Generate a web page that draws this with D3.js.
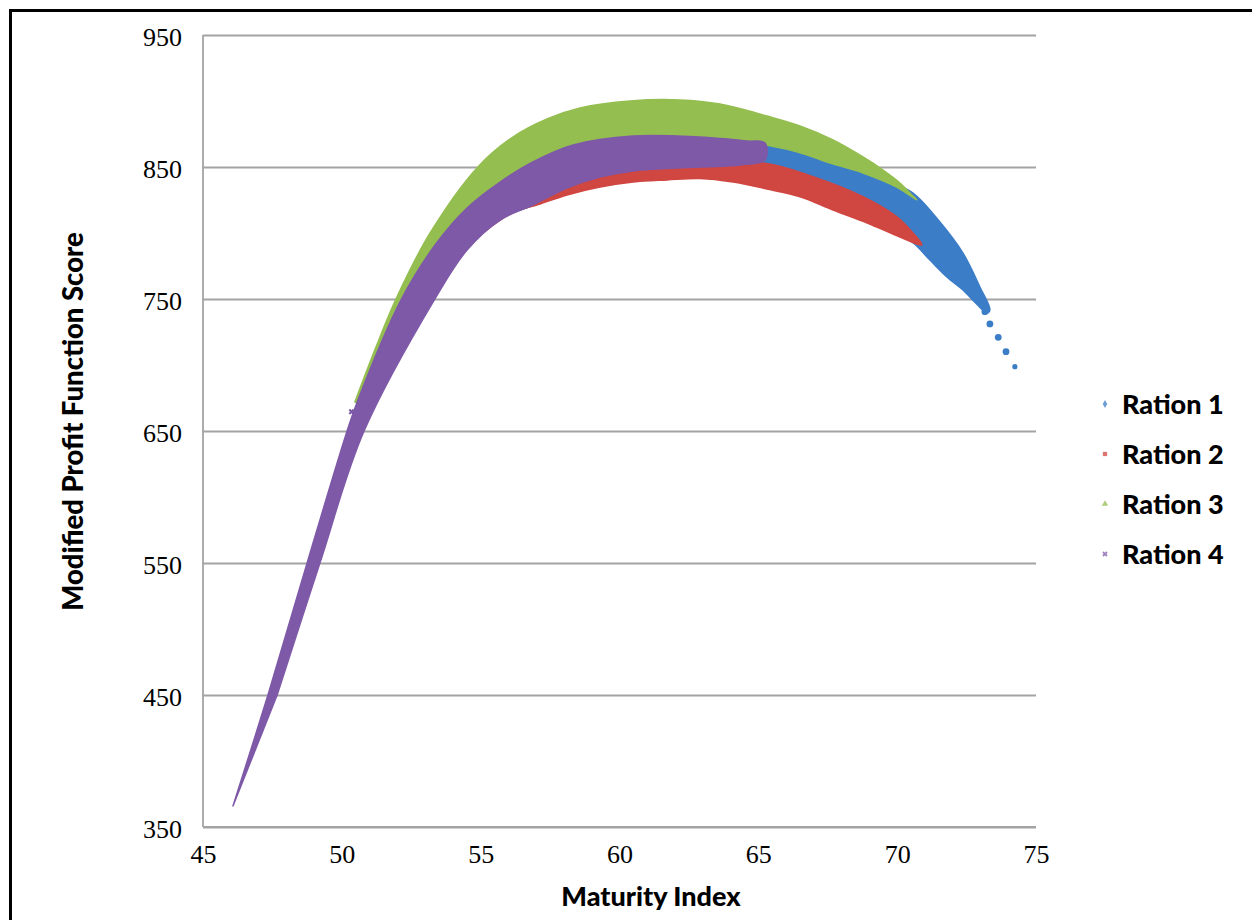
<!DOCTYPE html>
<html>
<head>
<meta charset="utf-8">
<script src="https://cdn.jsdelivr.net/npm/d3@7"></script>
<style>
  body { margin: 0; background: #fff; }
  .tick-label { font-family: "Liberation Serif", "DejaVu Serif", serif; font-size: 26px; fill: #000; }
  .title { font-family: "Lato", "Noto Sans", sans-serif; font-weight: 900; fill: #000; }
</style>
</head>
<body>
<div id="chart"></div>
<script>
// ---- data (x = maturity index, y = profit score) ----
var seriesNames = ["Ration 1", "Ration 2", "Ration 3", "Ration 4"];
var xTicks = [45, 50, 55, 60, 65, 70, 75];
var yTicks = [350, 450, 550, 650, 750, 850, 950];

// each ration is a dense cloud of points, kept here as its upper and lower edge
var ration1Upper = [[54.98, 828.8], [57.50, 856.8], [61.10, 870.5], [64.58, 869.7], [66.50, 862.9],
  [68.30, 850.8], [69.74, 838.6], [70.57, 830.3], [71.54, 808.3], [72.37, 784.8], [72.98, 759.1], [73.34, 741.7]];
var ration1Lower = [[54.98, 806.1], [59.30, 836.4], [62.90, 843.9], [66.50, 830.3], [69.38, 805.3],
  [70.53, 793.2], [71.18, 779.5], [71.78, 766.9], [72.37, 756.8], [72.86, 746.2], [73.23, 739.4]];
var ration1Tail = [[73.16, 740.4], [73.34, 731.1], [73.64, 721.0], [73.92, 710.1], [74.24, 698.7]];

var ration2Upper = [[54.98, 811.4], [57.50, 834.1], [61.10, 853.8], [65.17, 853.0], [66.97, 842.7],
  [68.77, 827.5], [69.98, 812.4], [70.57, 800.0], [70.89, 790.9]];
var ration2Lower = [[54.98, 798.5], [56.06, 814.4], [57.14, 822.0], [58.11, 828.8], [59.30, 834.8],
  [60.49, 838.6], [61.71, 840.2], [62.90, 841.3], [64.09, 838.6], [65.31, 833.3], [66.50, 827.5],
  [67.69, 817.4], [68.92, 807.6], [70.10, 797.0]];

var ration3Upper = [[50.47, 672.0], [51.23, 713.6], [51.95, 750.0], [53.18, 800.0], [54.90, 850.0],
  [56.16, 872.7], [57.39, 886.4], [58.58, 894.7], [60.38, 900.0], [62.18, 900.8], [63.62, 897.7],
  [65.31, 888.6], [66.50, 881.1], [67.69, 870.5], [68.77, 857.6], [69.49, 847.7], [70.10, 837.9],
  [70.57, 828.0], [70.71, 825.0]];
var ration3Lower = [[50.65, 669.7], [52.09, 735.6], [53.90, 781.1], [56.42, 823.5], [59.30, 847.7],
  [62.18, 865.9], [64.58, 868.2], [66.38, 861.6], [67.58, 853.0], [68.77, 845.5], [69.98, 834.8]];

var ration4Upper = [[46.08, 365.9], [47.34, 450.0], [48.75, 550.0], [50.19, 650.0], [50.58, 673.5],
  [52.13, 749.2], [53.36, 790.9], [54.51, 818.9], [55.70, 838.6], [56.88, 853.8], [58.33, 866.7],
  [60.49, 873.5], [62.90, 872.7], [64.58, 869.7], [65.24, 868.2]];
var ration4Lower = [[47.67, 450.0], [49.21, 550.0], [50.80, 650.0], [53.39, 751.5], [54.51, 787.1],
  [55.70, 809.8], [56.88, 821.2], [58.11, 834.1], [59.30, 842.4], [60.49, 847.0], [62.90, 850.0],
  [64.34, 851.5], [65.24, 855.3]];
var ration4Extra = [[50.35, 664.6]];

(function() {
  var W = 1252, H = 920;
  var margin = { top: 35, left: 203, right: 216, bottom: 93 },
  width = W - margin.left - margin.right,
  height = H - margin.top - margin.bottom;

  var colors = ["#3c7dc8", "#d04640", "#94be50", "#7e59a8"];
  var shapes = [d3.symbolDiamond, d3.symbolSquare, d3.symbolTriangle, d3.symbolCross];

  var root = d3.select("#chart")
    .append("svg")
    .attr("width", W)
    .attr("height", H)

  // black frame, only top and left show in the picture
  root.append("rect")
    .attr("x", 10.5)
    .attr("y", 10.5)
    .attr("width", W + 40)
    .attr("height", H + 40)
    .attr("fill", "none")
    .attr("stroke", "#000")
    .attr("stroke-width", 3)

  var svg = root.append("g")
    .attr("transform", "translate(" + margin.left + "," + margin.top + ")")

  var x = d3.scaleLinear().domain([45, 75]).range([0, width])
  var y = d3.scaleLinear().domain([350, 950]).range([height, 0])

  // gridlines
  svg.append("g")
    .attr("class", "grid")
    .call(d3.axisLeft(y).tickValues(yTicks).tickSize(-width).tickFormat(""))
    .call(function(g) {
      g.select(".domain").remove()
      g.selectAll("line").attr("stroke", "#a3a3a3").attr("stroke-width", 1.8)
    })

  // axis lines
  svg.append("line")
    .attr("x1", 0).attr("x2", 0)
    .attr("y1", 0).attr("y2", height)
    .attr("stroke", "#a3a3a3").attr("stroke-width", 1.8)
  svg.append("line")
    .attr("x1", 0).attr("x2", width)
    .attr("y1", height).attr("y2", height)
    .attr("stroke", "#a3a3a3").attr("stroke-width", 1.8)

  var yAxis = svg.append("g")
    .call(d3.axisLeft(y).tickValues(yTicks).tickSize(0).tickPadding(21))
  yAxis.select(".domain").remove()
  yAxis.selectAll("text")
    .attr("class", "tick-label")
    .attr("dy", "0.4em")
    .attr("font-family", null).attr("font-size", null)

  var xAxis = svg.append("g")
    .attr("transform", "translate(0," + height + ")")
    .call(d3.axisBottom(x).tickValues(xTicks).tickSize(0).tickPadding(18))
  xAxis.select(".domain").remove()
  xAxis.selectAll("text")
    .attr("class", "tick-label")
    .attr("font-family", null).attr("font-size", null)

  // the four clouds, drawn in series order so ration 4 ends on top
  var edges = [
    [ration1Upper, ration1Lower],
    [ration2Upper, ration2Lower],
    [ration3Upper, ration3Lower],
    [ration4Upper, ration4Lower]
  ];

  var outline = d3.line()
    .x(function(d) { return x(d[0]) })
    .y(function(d) { return y(d[1]) })
    .curve(d3.curveCatmullRom.alpha(0.5))

  var sym = d3.symbol()

  edges.forEach(function(e, i) {
    var ring = e[0].concat(e[1].slice().reverse())
    svg.append("path")
      .attr("class", "cloud cloud-" + (i + 1))
      .attr("d", outline(ring) + "Z")
      .attr("fill", colors[i])
      .attr("stroke", colors[i])
      .attr("stroke-width", 1.5)
      .attr("stroke-linejoin", "round")

    if (i === 0) {
      svg.selectAll(".tail")
        .data(ration1Tail)
        .enter().append("circle")
        .attr("class", "tail")
        .attr("cx", function(d) { return x(d[0]) })
        .attr("cy", function(d) { return y(d[1]) })
        .attr("r", function(d, k) { return k === ration1Tail.length - 1 ? 2.6 : 3.4 })
        .attr("fill", colors[0])
    }
  })//END of edges.forEach

  svg.selectAll(".extra")
    .data(ration4Extra)
    .enter().append("path")
    .attr("class", "extra")
    .attr("transform", function(d) { return "translate(" + x(d[0]) + "," + y(d[1]) + ") rotate(45)" })
    .attr("d", sym.type(d3.symbolCross).size(22)())
    .attr("fill", colors[3])

  // axis titles
  root.append("text")
    .attr("class", "title")
    .attr("x", 651)
    .attr("y", 906)
    .attr("text-anchor", "middle")
    .attr("font-size", 27)
    .text("Maturity Index")

  root.append("text")
    .attr("class", "title")
    .attr("transform", "translate(83,421.5) rotate(-90)")
    .attr("text-anchor", "middle")
    .attr("font-size", 27.5)
    .text("Modified Profit Function Score")

  // legend
  var legend = root.append("g")
    .attr("transform", "translate(1105,404)")

  var item = legend.selectAll(".legend-item")
    .data(seriesNames)
    .enter().append("g")
    .attr("class", "legend-item")
    .attr("transform", function(d, i) { return "translate(0," + (i * 50) + ")" })

  item.append("path")
    .attr("d", function(d, i) { return sym.type(shapes[i]).size(18)() })
    .attr("transform", function(d, i) { return i === 3 ? "rotate(45)" : null })
    .attr("fill", function(d, i) { return colors[i] })
    .attr("opacity", 0.75)

  item.append("text")
    .attr("class", "title")
    .attr("x", 17)
    .attr("y", 9.5)
    .attr("font-size", 27)
    .text(function(d) { return d })
})();
</script>
</body>
</html>
